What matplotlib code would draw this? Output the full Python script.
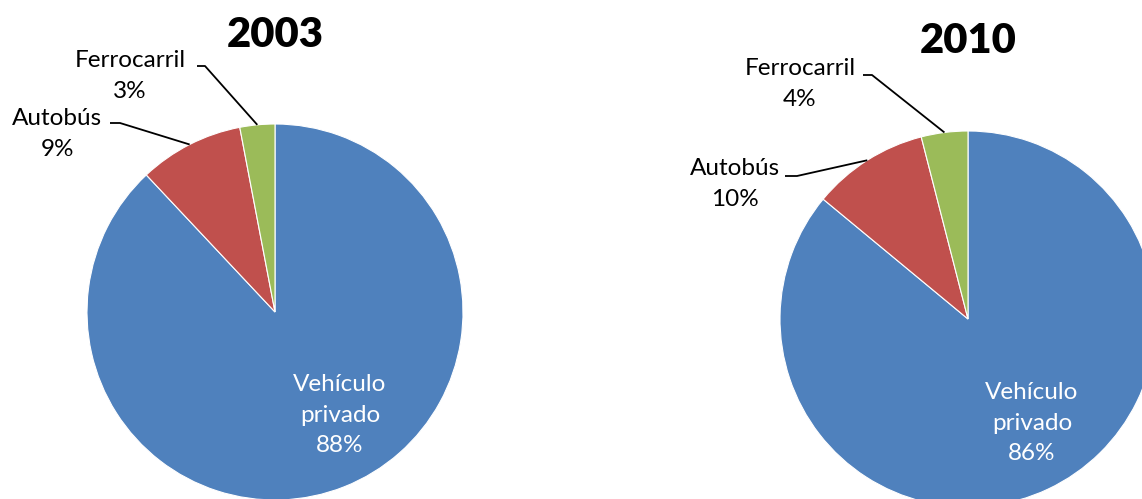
import numpy as np
import matplotlib
matplotlib.use("Agg")
import matplotlib.pyplot as plt

categories = ["Vehículo\nprivado", "Autobús", "Ferrocarril"]
values_2003 = [88, 9, 3]
values_2010 = [86, 10, 4]
titles = ["2003", "2010"]
colors = ["#4F81BD", "#C0504D", "#9BBB59"]

W, H = 1142, 499
fig = plt.figure(figsize=(W / 100, H / 100), dpi=100)
ax = fig.add_axes([0, 0, 1, 1])

FONT = "Lato"
LFS = 17.5
LSP = 1.55

def Y(py):
    return H - py

pies = [
    dict(values=values_2003, title=titles[0], center=(275, 312), r=188,
         title_pos=(275, 35),
         inner=(340, 415),
         outer=[None, dict(text=(57, 134), elbow=(120, 123), start=(110, 123)),
                dict(text=(130, 76), elbow=(205, 66), start=(197, 66))]),
    dict(values=values_2010, title=titles[1], center=(968, 319), r=188,
         title_pos=(968, 41),
         inner=(1032, 423),
         outer=[None, dict(text=(735, 184), elbow=(797, 176), start=(785, 176)),
                dict(text=(800, 84), elbow=(872, 75), start=(863, 75))]),
]

for p in pies:
    cx, cy = p["center"]
    vals = p["values"]
    wedges, _ = ax.pie(vals, colors=colors, startangle=90, counterclock=False,
                       center=(cx, Y(cy)), radius=p["r"], frame=True,
                       wedgeprops=dict(edgecolor="white", linewidth=0.8))
    total = sum(vals)
    ax.text(p["title_pos"][0], Y(p["title_pos"][1]), p["title"], ha="center", va="center",
            fontsize=30, fontweight="heavy", family=FONT, color="black")
    ix, iy = p["inner"]
    ax.text(ix, Y(iy), f"{categories[0]}\n{vals[0]}%", ha="center", va="center",
            fontsize=LFS, color="white", family=FONT, linespacing=LSP)
    cum = 0
    for i, v in enumerate(vals):
        mid = cum + v / 2
        cum += v
        o = p["outer"][i]
        if o is None:
            continue
        ang = np.deg2rad(90 - 360 * mid / total)
        ex = cx + p["r"] * np.cos(ang)
        ey = Y(cy) + p["r"] * np.sin(ang)
        ax.plot([o["start"][0], o["elbow"][0], ex],
                [Y(o["start"][1]), Y(o["elbow"][1]), ey],
                color="black", linewidth=1.3, solid_capstyle="butt")
        ax.text(o["text"][0], Y(o["text"][1]), f"{categories[i]}\n{v}%", ha="center", va="center",
                fontsize=LFS, color="black", family=FONT, linespacing=LSP)

ax.set_xlim(0, W)
ax.set_ylim(0, H)
ax.set_aspect("equal")
ax.axis("off")

fig.savefig("out.png", dpi=100, facecolor="white")
